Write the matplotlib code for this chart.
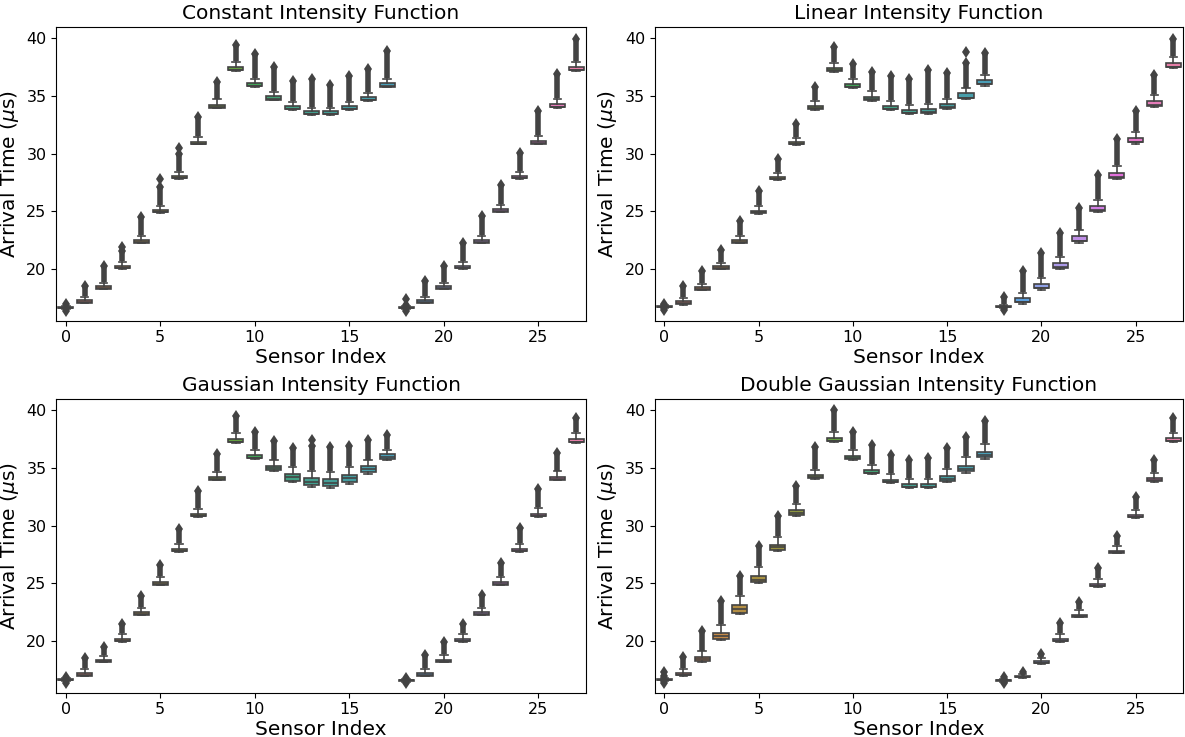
import matplotlib
matplotlib.use("Agg")
import matplotlib.pyplot as plt
import seaborn as sns

sensors = list(range(28))
xticks = [0, 5, 10, 15, 20, 25]
yticks = [20, 25, 30, 35, 40]
titles = ["Constant Intensity Function", "Linear Intensity Function",
          "Gaussian Intensity Function", "Double Gaussian Intensity Function"]

# ---------------- Constant ----------------
const_med = [16.63, 17.13, 18.33, 20.13, 22.33, 24.98, 27.93, 30.88, 34.03, 37.25, 35.88, 34.71, 33.88, 33.43,
             33.43, 33.88, 34.68, 35.83, 16.63, 17.13, 18.33, 20.13, 22.33, 25.01, 27.93, 30.91, 34.05, 37.28]
const_q1 = [16.60, 17.10, 18.30, 20.10, 22.30, 24.95, 27.90, 30.85, 34.00, 37.22, 35.85, 34.68, 33.85, 33.40,
            33.40, 33.85, 34.65, 35.80, 16.60, 17.10, 18.30, 20.10, 22.30, 24.98, 27.90, 30.88, 34.02, 37.25]
const_q3 = [16.70, 17.30, 18.50, 20.30, 22.50, 25.15, 28.10, 31.05, 34.25, 37.55, 36.15, 34.98, 34.15, 33.70,
            33.70, 34.15, 34.95, 36.10, 16.70, 17.30, 18.50, 20.30, 22.50, 25.18, 28.10, 31.10, 34.30, 37.55]
const_wlo = [16.55, 17.05, 18.25, 20.05, 22.25, 24.90, 27.85, 30.80, 33.95, 37.15, 35.80, 34.62, 33.80, 33.35,
             33.35, 33.80, 34.60, 35.75, 16.55, 17.05, 18.25, 20.05, 22.25, 24.93, 27.85, 30.82, 33.97, 37.20]
const_whi = [16.80, 17.55, 18.80, 20.60, 22.85, 25.50, 28.45, 31.45, 34.70, 37.95, 36.50, 35.35, 34.45, 34.00,
             34.00, 34.45, 35.30, 36.45, 16.80, 17.60, 18.80, 20.65, 22.90, 25.55, 28.45, 31.50, 34.75, 37.95]
const_top = [16.95, 18.50, 20.30, 21.60, 24.50, 27.15, 29.95, 33.15, 36.20, 39.40, 38.60, 37.50, 36.30, 36.50,
             35.95, 36.70, 37.30, 38.90, 16.85, 19.00, 20.30, 22.30, 24.60, 27.30, 30.10, 33.70, 36.90, 39.90]
const_low_idx = [0, 18]
const_low_val = [16.35, 16.40]
const_iso_idx = [3, 5, 6, 18]
const_iso_val = [21.95, 27.80, 30.45, 17.40]

# ---------------- Linear ----------------
lin_med = [16.74, 17.04, 18.27, 20.09, 22.34, 24.91, 27.81, 30.84, 33.92, 37.22, 35.82, 34.72, 33.89, 33.54,
           33.59, 34.02, 34.86, 36.04, 16.74, 17.16, 18.37, 20.17, 22.47, 25.11, 27.97, 31.04, 34.21, 37.54]
lin_q1 = [16.70, 17.00, 18.23, 20.05, 22.30, 24.87, 27.77, 30.80, 33.88, 37.18, 35.78, 34.68, 33.85, 33.50,
          33.55, 33.98, 34.82, 36.00, 16.70, 17.12, 18.33, 20.13, 22.43, 25.07, 27.93, 31.00, 34.17, 37.50]
lin_q3 = [16.80, 17.20, 18.43, 20.25, 22.50, 25.07, 27.97, 31.00, 34.12, 37.42, 36.02, 34.95, 34.15, 33.80,
          33.88, 34.32, 35.22, 36.40, 16.80, 17.48, 18.73, 20.53, 22.83, 25.47, 28.33, 31.39, 34.57, 37.89]
lin_wlo = [16.65, 16.90, 18.15, 19.98, 22.22, 24.80, 27.70, 30.72, 33.80, 37.10, 35.70, 34.60, 33.78, 33.42,
           33.45, 33.88, 34.70, 35.90, 16.65, 17.00, 18.20, 20.00, 22.30, 24.95, 27.80, 30.88, 34.05, 37.40]
lin_whi = [16.90, 17.50, 18.75, 20.55, 22.85, 25.45, 28.35, 31.40, 34.55, 37.85, 36.45, 35.40, 34.55, 34.20,
           34.30, 34.75, 35.65, 36.85, 16.90, 17.95, 19.20, 21.05, 23.35, 26.00, 28.90, 31.90, 35.05, 38.35]
lin_top = [17.00, 18.50, 19.80, 21.65, 24.20, 26.80, 29.50, 32.60, 35.80, 39.20, 37.80, 37.10, 36.73, 36.45,
           37.25, 36.97, 37.83, 38.75, 17.55, 19.80, 21.37, 23.10, 25.27, 28.15, 31.25, 33.70, 36.82, 39.90]
lin_low_idx = [0, 18]
lin_low_val = [16.50, 16.45]
lin_iso_idx = [16]
lin_iso_val = [38.84]

# ---------------- Gaussian ----------------
gau_med = [16.64, 17.04, 18.24, 20.04, 22.34, 24.94, 27.84, 30.84, 34.04, 37.29, 35.89, 35.00, 34.20, 33.80,
           33.70, 34.10, 34.90, 35.97, 16.59, 17.04, 18.24, 20.04, 22.34, 24.94, 27.84, 30.84, 34.04, 37.29]
gau_q1 = [16.60, 17.00, 18.20, 20.00, 22.30, 24.90, 27.80, 30.80, 34.00, 37.25, 35.85, 34.80, 33.90, 33.50,
          33.40, 33.80, 34.62, 35.75, 16.55, 17.00, 18.20, 20.00, 22.30, 24.90, 27.80, 30.80, 34.00, 37.25]
gau_q3 = [16.70, 17.20, 18.40, 20.20, 22.50, 25.10, 28.00, 31.00, 34.22, 37.55, 36.15, 35.20, 34.50, 34.12,
          34.02, 34.42, 35.15, 36.20, 16.65, 17.20, 18.40, 20.20, 22.50, 25.10, 28.00, 31.00, 34.22, 37.55]
gau_wlo = [16.55, 16.95, 18.15, 19.95, 22.25, 24.85, 27.75, 30.75, 33.95, 37.20, 35.80, 34.70, 33.75, 33.35,
           33.25, 33.65, 34.50, 35.65, 16.50, 16.95, 18.15, 19.95, 22.25, 24.85, 27.75, 30.75, 33.95, 37.20]
gau_whi = [16.80, 17.55, 18.75, 20.60, 22.90, 25.55, 28.45, 31.45, 34.65, 38.00, 36.55, 35.65, 35.05, 34.75,
           34.65, 35.05, 35.65, 36.60, 16.75, 17.60, 18.80, 20.65, 22.90, 25.55, 28.45, 31.50, 34.70, 38.00]
gau_top = [16.90, 18.50, 19.50, 21.50, 23.90, 26.60, 29.70, 33.00, 36.20, 39.50, 38.10, 37.30, 36.70, 36.90,
           36.80, 36.90, 37.40, 37.90, 16.80, 18.80, 19.90, 21.50, 24.00, 26.80, 29.80, 33.20, 36.30, 39.30]
gau_low_idx = [0, 18]
gau_low_val = [16.40, 16.40]
gau_iso_idx = [13]
gau_iso_val = [37.40]

# ---------------- Double Gaussian ----------------
dg_med = [16.64, 17.09, 18.45, 20.44, 22.77, 25.33, 28.14, 31.12, 34.22, 37.34, 35.84, 34.59, 33.79, 33.36,
          33.36, 34.08, 34.95, 36.12, 16.59, 16.92, 18.14, 20.04, 22.14, 24.79, 27.69, 30.79, 33.92, 37.34]
dg_q1 = [16.60, 17.05, 18.30, 20.20, 22.45, 25.12, 27.92, 30.95, 34.10, 37.30, 35.80, 34.55, 33.75, 33.32,
         33.32, 33.90, 34.72, 35.92, 16.55, 16.88, 18.10, 20.00, 22.10, 24.75, 27.65, 30.75, 33.88, 37.30]
dg_q3 = [16.70, 17.25, 18.60, 20.70, 23.10, 25.60, 28.36, 31.35, 34.36, 37.60, 36.08, 34.82, 34.00, 33.58,
         33.58, 34.30, 35.20, 36.36, 16.65, 17.02, 18.30, 20.20, 22.30, 24.95, 27.85, 30.95, 34.12, 37.60]
dg_wlo = [16.55, 17.00, 18.22, 20.10, 22.35, 25.00, 27.82, 30.85, 34.02, 37.22, 35.72, 34.48, 33.68, 33.25,
          33.25, 33.80, 34.60, 35.80, 16.50, 16.83, 18.05, 19.95, 22.05, 24.70, 27.60, 30.70, 33.82, 37.22]
dg_whi = [16.80, 17.60, 19.10, 21.40, 23.90, 26.40, 29.00, 31.90, 34.85, 38.10, 36.55, 35.30, 34.45, 34.05,
          34.05, 34.90, 35.95, 37.05, 16.75, 17.12, 18.50, 20.60, 22.70, 25.35, 28.25, 31.40, 34.55, 38.05]
dg_top = [17.00, 18.60, 20.90, 23.50, 25.60, 28.20, 30.80, 33.40, 36.80, 40.00, 38.10, 37.00, 36.10, 35.70,
          35.90, 36.70, 37.70, 39.10, 16.90, 17.30, 18.90, 21.60, 23.40, 26.30, 29.10, 32.50, 35.70, 39.30]
dg_low_idx = [0, 18]
dg_low_val = [16.35, 16.40]
dg_iso_idx = [0]
dg_iso_val = [17.30]

panels = [
    (const_med, const_q1, const_q3, const_wlo, const_whi, const_top, const_low_idx, const_low_val, const_iso_idx, const_iso_val),
    (lin_med, lin_q1, lin_q3, lin_wlo, lin_whi, lin_top, lin_low_idx, lin_low_val, lin_iso_idx, lin_iso_val),
    (gau_med, gau_q1, gau_q3, gau_wlo, gau_whi, gau_top, gau_low_idx, gau_low_val, gau_iso_idx, gau_iso_val),
    (dg_med, dg_q1, dg_q3, dg_wlo, dg_whi, dg_top, dg_low_idx, dg_low_val, dg_iso_idx, dg_iso_val),
]

palette = [sns.desaturate(c, 0.75) for c in sns.husl_palette(28)]
gray = "#434343"
lw = 1.2
col_w = 4.0
mk = dict(linestyle="none", marker="d", ms=6, mew=0, color=gray, zorder=3)

W, H = 1185, 737
fig = plt.figure(figsize=(W / 100, H / 100), dpi=100)
rects = [
    (56.3, 27.3, 585.7, 320.7),
    (655.0, 27.3, 1182.7, 320.7),
    (56.3, 399.3, 585.7, 692.7),
    (655.0, 399.3, 1182.7, 692.7),
]

for (x0, y0, x1, y1), title, data in zip(rects, titles, panels):
    med, q1, q3, wlo, whi, top, low_idx, low_val, iso_idx, iso_val = data
    ax = fig.add_axes([x0 / W, 1 - y1 / H, (x1 - x0) / W, (y1 - y0) / H])
    stats = [dict(med=m, q1=a, q3=b, whislo=lo, whishi=hi, fliers=[])
             for m, a, b, lo, hi in zip(med, q1, q3, wlo, whi)]
    bp = ax.bxp(stats, positions=sensors, widths=0.8, patch_artist=True, showfliers=False,
                boxprops=dict(edgecolor=gray, linewidth=lw),
                medianprops=dict(color=gray, linewidth=lw),
                whiskerprops=dict(color=gray, linewidth=lw),
                capprops=dict(color=gray, linewidth=lw), capwidths=0.4, zorder=2)
    for patch, c in zip(bp["boxes"], palette):
        patch.set_facecolor(c)
    # dense outlier columns above the upper whiskers
    ax.vlines(sensors, [h + 0.08 for h in whi], top, colors=gray, linewidth=col_w,
              capstyle="butt", zorder=3)
    ax.plot(sensors, top, **mk)
    # outliers below the lower whiskers
    ax.vlines(low_idx, low_val, [wlo[i] for i in low_idx], colors=gray, linewidth=col_w,
              capstyle="butt", zorder=3)
    ax.plot(low_idx, low_val, **mk)
    # isolated outliers
    ax.plot(iso_idx, iso_val, **mk)

    ax.set_xlim(-0.5, 27.5)
    ax.set_ylim(15.53, 40.95)
    ax.set_xticks(xticks)
    ax.set_xticklabels([str(t) for t in xticks])
    ax.set_yticks(yticks)
    ax.tick_params(labelsize=11.5)
    ax.set_title(title, fontsize=14.5)
    ax.set_xlabel("Sensor Index", fontsize=14.5, labelpad=2)
    ax.set_ylabel(r"Arrival Time ($\mu$s)", fontsize=14.5)

fig.savefig("out.png", dpi=100)
